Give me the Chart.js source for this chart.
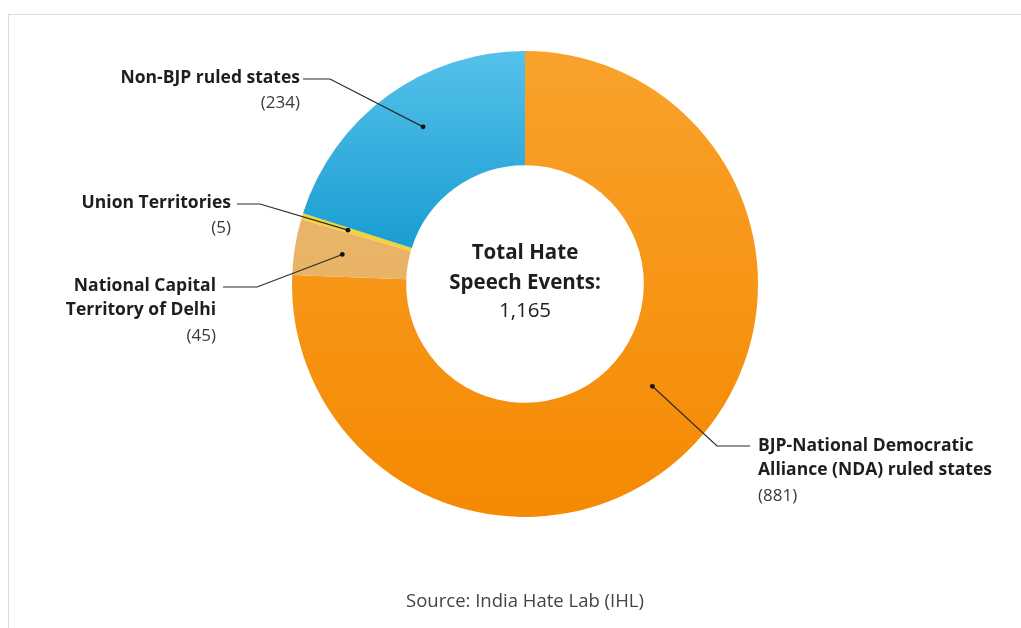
<!DOCTYPE html>
<html>
<head>
<meta charset="utf-8">
<script src="https://cdn.jsdelivr.net/npm/chart.js@4.4.0/dist/chart.umd.min.js"></script>
<style>
  html, body { margin: 0; padding: 0; background: #fff; }
  #wrap { position: relative; width: 1021px; height: 628px; overflow: hidden; }
  #frame { position: absolute; left: 8px; top: 14px; width: 1100px; height: 700px; border: 1px solid #dcdcdc; }
  #chart { position: absolute; left: 0; top: 0; }
</style>
</head>
<body>
<div id="wrap">
  <div id="frame"></div>
  <canvas id="chart" width="1021" height="628"></canvas>
</div>
<script>
// data
const categories = [
  "BJP-National Democratic Alliance (NDA) ruled states",
  "National Capital Territory of Delhi",
  "Union Territories",
  "Non-BJP ruled states"
];
const eventCounts = [881, 45, 5, 234];
const labelLines = [
  ["BJP-National Democratic", "Alliance (NDA) ruled states"],
  ["National Capital", "Territory of Delhi"],
  ["Union Territories"],
  ["Non-BJP ruled states"]
];
const centerLines = ["Total Hate", "Speech Events:"];
const sourceText = "Source: India Hate Lab (IHL)";

// colours: top colour, bottom colour, gradient start/end as fraction of chart height
const sliceColors = [
  ["#f9a22b", "#f58902", 0, 1],
  ["#eab76d", "#e7b062", 0, 1],
  ["#f6d640", "#f2cc30", 0, 1],
  ["#55c1ea", "#169bd0", 0, 0.45]
];

const FONT = "'Open Sans', 'Noto Sans', sans-serif";

// callout layout (dot position inside slice, elbow, text anchor)
const callouts = [
  { index: 0, frac: 0.473, depth: 0.39, elbow: [717, 446], end: [750, 446], x: 758, y: 446, align: "left" },
  { index: 1, frac: 0.5, depth: 0.58, elbow: [257, 287], end: [223, 287], x: 216, y: 286, align: "right" },
  { index: 2, frac: 0.5, depth: 0.58, elbow: [260, 204], end: [237, 204], x: 231, y: 203, align: "right" },
  { index: 3, frac: 0.544, depth: 0.6, elbow: [330, 79], end: [303, 79], x: 300, y: 78, align: "right" }
];

const gradCache = {};
function sliceFill(context) {
  const chart = context.chart;
  const area = chart.chartArea;
  const i = context.dataIndex;
  if (!area) return sliceColors[i][1];
  const key = i + ":" + area.top + ":" + area.bottom;
  if (!gradCache[key]) {
    const h = area.bottom - area.top;
    const g = chart.ctx.createLinearGradient(0, area.top + h * sliceColors[i][2], 0, area.top + h * sliceColors[i][3]);
    g.addColorStop(0, sliceColors[i][0]);
    g.addColorStop(1, sliceColors[i][1]);
    gradCache[key] = g;
  }
  return gradCache[key];
}

const calloutPlugin = {
  id: "callouts",
  afterDatasetsDraw(chart) {
    const ctx = chart.ctx;
    const meta = chart.getDatasetMeta(0);
    ctx.save();

    callouts.forEach(c => {
      const arc = meta.data[c.index];
      const a = arc.startAngle + (arc.endAngle - arc.startAngle) * c.frac;
      const r = arc.innerRadius + (arc.outerRadius - arc.innerRadius) * c.depth;
      const px = arc.x + Math.cos(a) * r;
      const py = arc.y + Math.sin(a) * r;

      ctx.strokeStyle = "#2b2b2b";
      ctx.lineWidth = 1.2;
      ctx.beginPath();
      ctx.moveTo(px, py);
      ctx.lineTo(c.elbow[0], c.elbow[1]);
      ctx.lineTo(c.end[0], c.end[1]);
      ctx.stroke();

      ctx.fillStyle = "#111";
      ctx.beginPath();
      ctx.arc(px, py, 2.4, 0, Math.PI * 2);
      ctx.fill();

      ctx.textAlign = c.align;
      ctx.textBaseline = "middle";
      let y = c.y;
      ctx.fillStyle = "#1e1e1e";
      ctx.font = "bold 17.5px " + FONT;
      labelLines[c.index].forEach(line => {
        ctx.fillText(line, c.x, y);
        y += 24.5;
      });
      ctx.fillStyle = "#3a3a3a";
      ctx.font = "17px " + FONT;
      ctx.fillText("(" + eventCounts[c.index].toLocaleString("en-US") + ")", c.x, y + 1);
    });

    // centre text
    const arc0 = meta.data[0];
    const total = eventCounts.reduce((s, v) => s + v, 0);
    ctx.textAlign = "center";
    ctx.textBaseline = "middle";
    ctx.fillStyle = "#1e1e1e";
    ctx.font = "bold 20.5px " + FONT;
    ctx.fillText(centerLines[0], arc0.x, arc0.y - 31);
    ctx.fillText(centerLines[1], arc0.x, arc0.y - 1);
    ctx.font = "20.5px " + FONT;
    ctx.fillText(total.toLocaleString("en-US"), arc0.x, arc0.y + 27);

    // source
    ctx.fillStyle = "#444";
    ctx.font = "18.5px " + FONT;
    ctx.fillText(sourceText, arc0.x, 602);
    ctx.restore();
  }
};

new Chart(document.getElementById("chart").getContext("2d"), {
  type: "doughnut",
  data: {
    labels: categories,
    datasets: [{
      data: eventCounts,
      backgroundColor: sliceFill,
      borderWidth: 0,
      hoverOffset: 0
    }]
  },
  options: {
    responsive: false,
    animation: false,
    cutout: "51%",
    layout: { padding: { top: 51, bottom: 111, left: 292, right: 263 } },
    plugins: {
      legend: { display: false },
      tooltip: { enabled: false }
    }
  },
  plugins: [calloutPlugin]
});
</script>
</body>
</html>
